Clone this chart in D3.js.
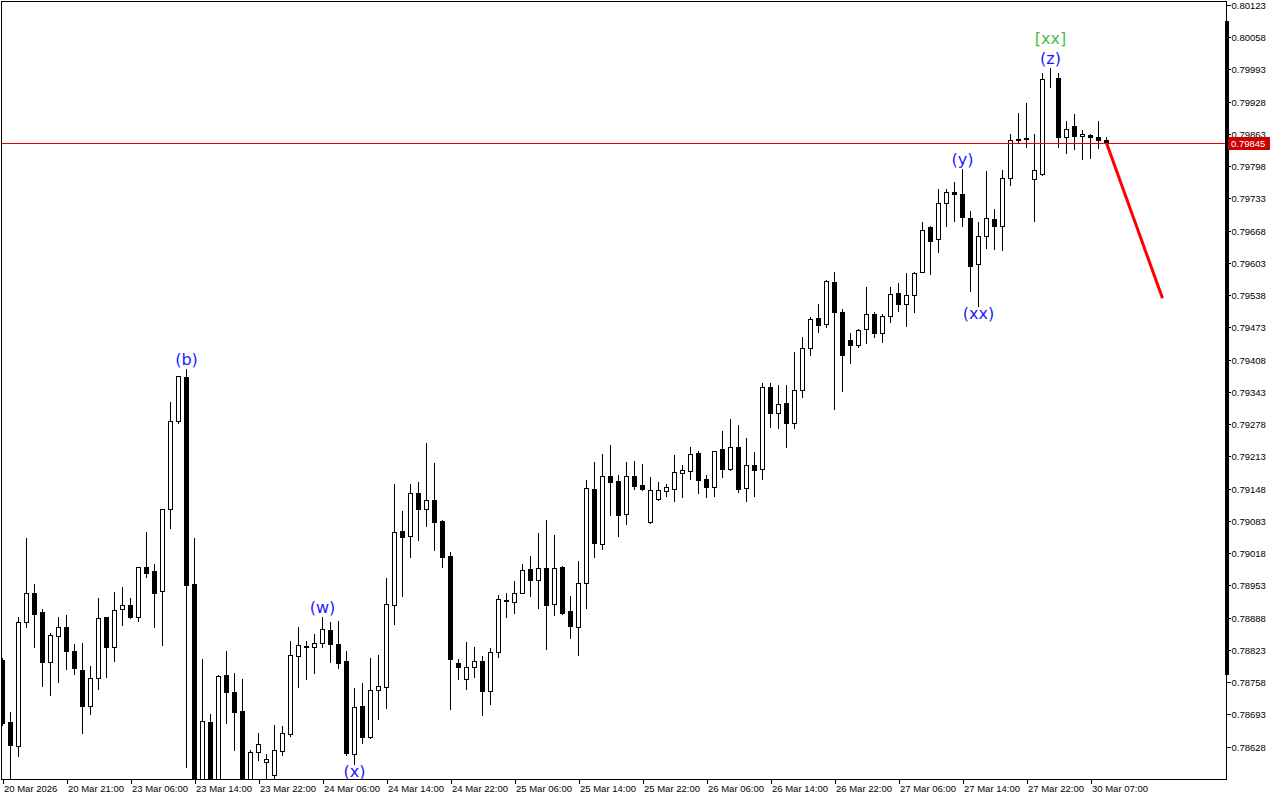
<!DOCTYPE html>
<html>
<head>
<meta charset="utf-8">
<script src="https://cdn.jsdelivr.net/npm/d3@7"></script>
<style>
  html, body { margin: 0; padding: 0; background: #fff; }
  svg { display: block; }
</style>
</head>
<body>
<svg id="chart" width="1280" height="800"></svg>
<script>
// ---------------- DATA (hourly OHLC) ----------------
const opens = [
0.78803,0.78678,0.78629,0.78879,0.78938,0.78899,0.78799,0.78851,0.78869,0.78821,
0.78782,0.78710,0.78766,0.78889,0.78829,0.78905,0.78913,0.78889,0.78990,0.78982,
0.78942,0.79107,0.79284,0.79373,0.78956,0.78545,0.78678,0.78545,0.78772,0.78738,
0.78700,0.78550,0.78617,0.78597,0.78571,0.78619,0.78653,0.78811,0.78831,0.78829,
0.78837,0.78863,0.78835,0.78801,0.78613,0.78710,0.78647,0.78742,0.78748,0.78913,
0.79063,0.79053,0.79139,0.79107,0.79125,0.79083,0.79012,0.78796,0.78764,0.78788,
0.78801,0.78740,0.78819,0.78924,0.78919,0.78938,0.78986,0.78964,0.78988,0.78915,
0.78990,0.78901,0.78869,0.78958,0.79147,0.79036,0.79173,0.79163,0.79097,0.79173,
0.79155,0.79081,0.79127,0.79143,0.79147,0.79180,0.79184,0.79220,0.79167,0.79151,
0.79228,0.79188,0.79232,0.79149,0.79196,0.79188,0.79353,0.79300,0.79321,0.79280,
0.79347,0.79432,0.79492,0.79480,0.79565,0.79504,0.79448,0.79438,0.79470,0.79500,
0.79462,0.79496,0.79542,0.79520,0.79538,0.79585,0.79675,0.79651,0.79724,0.79746,
0.79742,0.79694,0.79601,0.79657,0.79692,0.79677,0.79774,0.79853,0.79855,0.79772,
0.79782,0.79973,0.79976,0.79857,0.79879,0.79859,0.79861,0.79857,0.79851];
const highs = [
0.78807,0.78698,0.78889,0.79048,0.78956,0.78905,0.78857,0.78889,0.78893,0.78835,
0.78837,0.78790,0.78928,0.78890,0.78940,0.78950,0.78928,0.78991,0.79061,0.78996,
0.79108,0.79323,0.79376,0.79389,0.79048,0.78805,0.78694,0.78772,0.78821,0.78776,
0.78764,0.78621,0.78655,0.78613,0.78671,0.78669,0.78841,0.78869,0.78841,0.78855,
0.78889,0.78879,0.78881,0.78821,0.78746,0.78756,0.78807,0.78813,0.78968,0.79157,
0.79103,0.79157,0.79161,0.79240,0.79200,0.79084,0.79020,0.78805,0.78839,0.78829,
0.78811,0.78827,0.78934,0.78938,0.78962,0.78996,0.79012,0.79059,0.79085,0.79055,
0.78992,0.78932,0.79002,0.79165,0.79202,0.79218,0.79236,0.79175,0.79202,0.79204,
0.79198,0.79171,0.79161,0.79157,0.79216,0.79196,0.79232,0.79224,0.79175,0.79225,
0.79264,0.79288,0.79276,0.79250,0.79222,0.79361,0.79361,0.79357,0.79357,0.79423,
0.79454,0.79494,0.79520,0.79568,0.79585,0.79510,0.79462,0.79470,0.79555,0.79504,
0.79501,0.79555,0.79563,0.79583,0.79585,0.79686,0.79677,0.79752,0.79752,0.79766,
0.79792,0.79708,0.79686,0.79788,0.79712,0.79790,0.79863,0.79905,0.79925,0.79863,
0.79986,0.79996,0.79986,0.79889,0.79903,0.79871,0.79862,0.79889,0.79857];
const lows = [
0.78671,0.78555,0.78609,0.78869,0.78829,0.78750,0.78732,0.78758,0.78784,0.78774,
0.78655,0.78694,0.78744,0.78768,0.78801,0.78873,0.78887,0.78881,0.78970,0.78869,
0.78833,0.79069,0.79280,0.78587,0.78530,0.78530,0.78525,0.78535,0.78676,0.78621,
0.78535,0.78540,0.78601,0.78558,0.78563,0.78611,0.78649,0.78748,0.78764,0.78776,
0.78829,0.78799,0.78786,0.78611,0.78593,0.78635,0.78645,0.78684,0.78706,0.78875,
0.78932,0.79010,0.79044,0.79073,0.79024,0.78990,0.78704,0.78764,0.78744,0.78768,
0.78692,0.78714,0.78809,0.78889,0.78897,0.78937,0.78932,0.78907,0.78825,0.78893,
0.78895,0.78847,0.78813,0.78907,0.79010,0.79026,0.79095,0.79053,0.79077,0.79147,
0.79146,0.79079,0.79126,0.79133,0.79123,0.79131,0.79167,0.79139,0.79131,0.79133,
0.79171,0.79186,0.79141,0.79123,0.79133,0.79167,0.79272,0.79270,0.79232,0.79270,
0.79333,0.79417,0.79464,0.79474,0.79309,0.79345,0.79401,0.79434,0.79442,0.79454,
0.79444,0.79484,0.79506,0.79476,0.79504,0.79584,0.79581,0.79625,0.79677,0.79688,
0.79677,0.79546,0.79516,0.79633,0.79631,0.79629,0.79760,0.79845,0.79837,0.79688,
0.79781,0.79958,0.79837,0.79825,0.79833,0.79813,0.79815,0.79835,0.79844];
const closes = [
0.78676,0.78631,0.78879,0.78938,0.78895,0.78799,0.78853,0.78869,0.78821,0.78786,
0.78710,0.78766,0.78887,0.78829,0.78903,0.78913,0.78889,0.78990,0.78978,0.78938,
0.79107,0.79284,0.79375,0.78954,0.78545,0.78680,0.78540,0.78770,0.78738,0.78698,
0.78550,0.78617,0.78633,0.78603,0.78621,0.78655,0.78813,0.78833,0.78829,0.78837,
0.78865,0.78835,0.78796,0.78615,0.78708,0.78647,0.78742,0.78750,0.78915,0.79061,
0.79051,0.79139,0.79107,0.79125,0.79081,0.79010,0.78805,0.78788,0.78788,0.78801,
0.78740,0.78819,0.78926,0.78921,0.78938,0.78984,0.78964,0.78988,0.78913,0.78988,
0.78897,0.78871,0.78958,0.79149,0.79038,0.79173,0.79161,0.79095,0.79173,0.79153,
0.79147,0.79145,0.79145,0.79151,0.79182,0.79186,0.79218,0.79165,0.79151,0.79224,
0.79188,0.79232,0.79147,0.79196,0.79186,0.79353,0.79300,0.79319,0.79280,0.79347,
0.79432,0.79490,0.79478,0.79567,0.79504,0.79417,0.79438,0.79468,0.79500,0.79462,
0.79496,0.79540,0.79520,0.79538,0.79583,0.79669,0.79647,0.79724,0.79746,0.79742,
0.79696,0.79597,0.79657,0.79694,0.79677,0.79774,0.79851,0.79851,0.79853,0.79790,
0.79974,0.79974,0.79857,0.79873,0.79859,0.79863,0.79857,0.79851,0.79845];

// price axis tick values and time axis labels (every 8th bar)
const priceTicks = [0.80123,0.80058,0.79993,0.79928,0.79863,0.79798,0.79733,0.79668,
  0.79603,0.79538,0.79473,0.79408,0.79343,0.79278,0.79213,0.79148,0.79083,0.79018,
  0.78953,0.78888,0.78823,0.78758,0.78693,0.78628];
const timeTickBars = [0,8,16,24,32,40,48,56,64,72,80,88,96,104,112,120,128,136];
const timeTickLabels = ["20 Mar 2026","20 Mar 21:00","23 Mar 06:00","23 Mar 14:00",
  "23 Mar 22:00","24 Mar 06:00","24 Mar 14:00","24 Mar 22:00","25 Mar 06:00",
  "25 Mar 14:00","25 Mar 22:00","26 Mar 06:00","26 Mar 14:00","26 Mar 22:00",
  "27 Mar 06:00","27 Mar 14:00","27 Mar 22:00","30 Mar 07:00"];

// current price line and forecast arrow
const currentPrice = 0.79845;
const forecastBars = [138, 145];
const forecastPrices = [0.79845, 0.79532];

// wave labels
const waveText = ["(b)","(w)","(x)","(y)","(xx)","(z)","[xx]"];
const waveBar  = [23, 40, 44, 120, 122, 131, 131];
const waveSide = ["above","above","below","above","below","above","above2"];

// ---------------- DRAWING ----------------
const svg = d3.select("#chart");
const plotL = 2, plotT = 2, plotR = 1226, plotB = 779;

const x = d3.scaleLinear().domain([0, 138]).range([2.5, 1106.5]);
const y = d3.scaleLinear().domain([0.78563, 0.80129]).range([plotB, plotT]);
const ry = v => Math.round(y(v));

svg.append("defs").append("clipPath").attr("id","plotclip")
  .append("rect").attr("x", plotL).attr("y", plotT)
  .attr("width", plotR - plotL).attr("height", plotB - plotT);

const bars = d3.range(opens.length).map(i => ({
  i, o: opens[i], h: highs[i], l: lows[i], c: closes[i]
}));

const plot = svg.append("g").attr("clip-path","url(#plotclip)");

// candles
const cg = plot.append("g").attr("shape-rendering","crispEdges");
cg.selectAll("line.wick").data(bars).join("line")
  .attr("class","wick")
  .attr("x1", d => x(d.i)).attr("x2", d => x(d.i))
  .attr("y1", d => ry(d.h)).attr("y2", d => ry(d.l) + 1)
  .attr("stroke", "#000").attr("stroke-width", 1);
cg.selectAll("rect.body").data(bars).join("rect")
  .attr("class","body")
  .attr("x", d => x(d.i) - 2)
  .attr("y", d => ry(Math.max(d.o, d.c)) + 0.5)
  .attr("width", 4)
  .attr("height", d => Math.max(0, ry(Math.min(d.o, d.c)) - ry(Math.max(d.o, d.c))))
  .attr("fill", d => d.c >= d.o ? "#fff" : "#000")
  .attr("stroke", "#000").attr("stroke-width", 1);

// current price line (on top of candles)
plot.append("line")
  .attr("x1", plotL).attr("x2", plotR)
  .attr("y1", ry(currentPrice) + 0.5).attr("y2", ry(currentPrice) + 0.5)
  .attr("stroke", "#e00000").attr("stroke-width", 1)
  .attr("shape-rendering","crispEdges");

// forecast arrow
plot.append("line")
  .attr("x1", x(forecastBars[0])).attr("y1", y(forecastPrices[0]))
  .attr("x2", x(forecastBars[1])).attr("y2", y(forecastPrices[1]))
  .attr("stroke", "#ff0000").attr("stroke-width", 3);

// wave labels
waveText.forEach((t, k) => {
  const b = bars[waveBar[k]];
  let yy;
  if (waveSide[k] === "above") yy = y(b.h) - 4;
  else if (waveSide[k] === "above2") yy = y(b.h) - 24;
  else yy = y(b.l) + 13;
  plot.append("text")
    .attr("x", x(b.i)).attr("y", yy)
    .attr("text-anchor", "middle")
    .attr("font-family", "DejaVu Sans, sans-serif")
    .attr("font-size", 16)
    .attr("fill", waveSide[k] === "above2" ? "#48c040" : "#1a1aff")
    .text(t);
});

// frame
svg.append("rect")
  .attr("x", plotL - 0.5).attr("y", plotT - 0.5)
  .attr("width", plotR - plotL + 1).attr("height", plotB - plotT + 1)
  .attr("fill", "none").attr("stroke", "#000").attr("stroke-width", 1)
  .attr("shape-rendering","crispEdges");

// thick scale marker on the right border
svg.append("rect")
  .attr("x", plotR - 1).attr("y", ry(0.80090))
  .attr("width", 4).attr("height", ry(0.78772) - ry(0.80090))
  .attr("fill", "#000");

// right price axis
const yAxis = d3.axisRight(y).tickValues(priceTicks).tickSize(4).tickPadding(1)
  .tickFormat(d3.format(".5f"));
const ya = svg.append("g").attr("transform", `translate(${plotR + 0.5},0)`)
  .attr("shape-rendering","crispEdges")
  .call(yAxis);
ya.select(".domain").remove();
ya.selectAll(".tick").attr("transform", d => `translate(0,${ry(d) + 0.5})`);
ya.selectAll(".tick text")
  .attr("font-family", "Liberation Sans, Arial, sans-serif")
  .attr("font-size", 9.5).attr("fill", "#000").attr("dy", "0.34em");

// current price tag
const tagY = ry(currentPrice) + 0.5;
svg.append("rect")
  .attr("x", plotR + 2).attr("y", tagY - 6.5)
  .attr("width", 42).attr("height", 13)
  .attr("fill", "#cc0000");
svg.append("text")
  .attr("x", plotR + 5).attr("y", tagY)
  .attr("dy", "0.34em")
  .attr("font-family", "Liberation Sans, Arial, sans-serif")
  .attr("font-size", 9.5).attr("fill", "#fff")
  .text(d3.format(".5f")(currentPrice));

// bottom time axis
const xAxis = d3.axisBottom(x).tickValues(timeTickBars).tickSize(4).tickPadding(2)
  .tickFormat((d, k) => timeTickLabels[k]);
const xa = svg.append("g").attr("transform", `translate(0,${plotB + 0.5})`)
  .attr("shape-rendering","crispEdges")
  .call(xAxis);
xa.select(".domain").remove();
xa.selectAll(".tick text")
  .attr("text-anchor", "start").attr("x", 1)
  .attr("font-family", "Liberation Sans, Arial, sans-serif")
  .attr("font-size", 9.5).attr("fill", "#000");
</script>
</body>
</html>
